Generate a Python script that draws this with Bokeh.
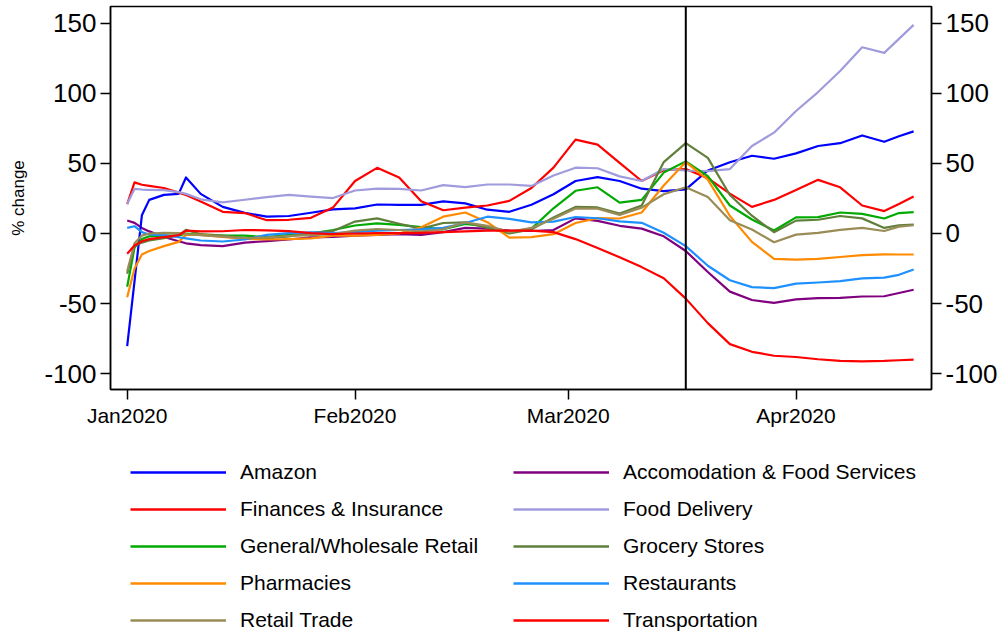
import pandas as pd
from bokeh.plotting import figure
from bokeh.layouts import column
from bokeh.models import (Range1d, LinearAxis, FixedTicker, DatetimeTickFormatter,
                          PrintfTickFormatter, Span, Legend, LegendItem)
from bokeh.embed import file_html
from bokeh.resources import INLINE

# ---------------- data ----------------
dates = ["2020-01-01", "2020-01-02", "2020-01-03", "2020-01-04", "2020-01-06",
         "2020-01-08", "2020-01-09", "2020-01-11", "2020-01-14", "2020-01-17",
         "2020-01-20", "2020-01-23", "2020-01-26", "2020-01-29", "2020-02-01",
         "2020-02-04", "2020-02-07", "2020-02-10", "2020-02-13", "2020-02-16",
         "2020-02-19", "2020-02-22", "2020-02-25", "2020-02-28", "2020-03-02",
         "2020-03-05", "2020-03-08", "2020-03-11", "2020-03-14", "2020-03-17",
         "2020-03-20", "2020-03-23", "2020-03-26", "2020-03-29", "2020-04-01",
         "2020-04-04", "2020-04-07", "2020-04-10", "2020-04-13", "2020-04-15",
         "2020-04-17"]

accommodation = [9.3, 7.6, 4, 1.5, -2.5, -5.5, -7, -8.3, -9, -6.5, -5.5, -4.3, -2.8, -2.5,
                 -1.5, -1, -0.5, -1, 1, 4, 3.5, 2, 1.8, 2.5, 10.8, 9, 5.5, 3.5, -2, -12.5,
                 -27.5, -41.5, -47.5, -49.5, -47, -46.2, -46, -45, -44.8, -42.5, -40.2]
amazon = [-80.5, -34, 13, 24, 27.6, 28.3, 40, 28.3, 19, 14.7, 12.1, 12.5, 14.8, 17.2,
          18, 20.7, 20.5, 20.5, 23, 21.5, 17, 15.5, 20.5, 28, 37.5, 40.2, 37.5, 32, 30.3,
          31.5, 45, 50.9, 55.5, 53.4, 57.2, 62.5, 64.5, 70, 65.5, 69.5, 72.9]
finances = [21, 36.5, 34.8, 34, 32.5, 29.2, 27.5, 22.8, 15.5, 14.6, 9.5, 9.8, 11.2, 18.5,
            37.5, 46.9, 40, 23, 16.6, 18.5, 20, 23.3, 32.5, 47, 67, 63.5, 50.5, 37.5, 45.2,
            46, 39.5, 28.5, 19, 24, 31, 38.3, 33, 20, 16, 21, 26.4]
food_delivery = [21, 31.9, 31.4, 31.2, 31, 29.5, 28.3, 24.4, 22.2, 24.1, 26, 27.6, 26.4,
                 25.3, 30.7, 32, 31.8, 30.7, 34.5, 33.1, 35, 35, 34, 41.4, 47, 46.6, 40.8,
                 37.5, 46, 45, 44.5, 46, 62.5, 72, 87.5, 101, 116, 133, 129, 139, 149]
general_retail = [-38, -10, -4, -2, -1.5, -1.5, 0, -1, -1.5, -1.5, -2.6, -1, 0, 2.5, 5.7,
                  7.2, 6.2, 4.5, 3, 6.8, 5, 1, 3.5, 18, 30.5, 33, 22, 24, 43.5, 51.5, 41,
                  20, 10, 2.1, 11.5, 11.7, 15, 14, 10.7, 14.6, 15.2]
grocery = [-28.8, -9, -6.5, -5, -3.3, -1.4, 2.6, -0.5, -1.5, -3.5, -3.5, -2, 0.5, 1.8,
           8.5, 10.8, 7, 3.5, 7.5, 8, 4, 0, 3, 11.4, 19, 18.6, 14.2, 20, 51, 64.5, 54,
           27.5, 12.7, 0.9, 9.2, 9.8, 12.5, 10.8, 4, 5.9, 6.4]
pharmacies = [-45.5, -25, -15, -12.5, -9, -6, -1, -1, -2.5, -3.8, -4.3, -4, -3.5, -1.5,
              -1.5, -1, 0, 4.5, 12, 15, 8.1, -3, -2.6, -0.5, 7.5, 11, 10.7, 15, 34.3, 51,
              38.5, 12.5, -6, -18.1, -18.6, -18.1, -16.8, -15.5, -14.9, -15, -15]
restaurants = [4, 5.2, 1, -0.7, -1.2, -2.7, -3.5, -5, -5.7, -4.3, -1, 0.3, 0.8, 0.3, 1,
               2, 2.5, 3, 4, 7.5, 12, 10.5, 8, 8.5, 11.8, 10.9, 8.7, 7.6, 0.5, -9, -23,
               -33.4, -38.3, -39, -35.8, -35, -34, -32, -31.5, -29.5, -25.7]
retail_trade = [-27, -7, -1.5, 0, 0.5, 0.3, -0.5, -1.2, -2.3, -3.3, -2.8, -1.8, -1.2,
                -0.5, 2, 3.2, 2.5, 1.5, 3, 8, 5.5, 1, 4, 10.5, 17.9, 17.8, 13.3, 18.5, 28,
                33, 26, 9.5, 2.8, -6.2, -0.8, 0.5, 2.6, 4, 1.8, 4.9, 5.9]
transportation = [-14.5, -8.6, -5.5, -4, -2.6, -1.2, 2, 1.5, 1.6, 2.5, 2.3, 1.7, 0.3,
                  -0.5, 0, 0.3, 0.3, 0.5, 1, 1.5, 2, 2, 2, 1, -4, -10.3, -17, -24, -32,
                  -46.5, -64, -79, -84.5, -87.3, -88.2, -89.8, -90.9, -91.3, -91, -90.5,
                  -90]

names = ["Accomodation & Food Services", "Amazon", "Finances & Insurance",
         "Food Delivery", "General/Wholesale Retail", "Grocery Stores",
         "Pharmacies", "Restaurants", "Retail Trade", "Transportation"]
values = [accommodation, amazon, finances, food_delivery, general_retail, grocery,
          pharmacies, restaurants, retail_trade, transportation]
colors = ["#800080", "#0000FF", "#FF0000", "#A09BDC", "#00AA00", "#5F7F3A",
          "#FF8A00", "#1E90FF", "#9A8C56", "#FF0000"]
legend_order = ["Amazon", "Finances & Insurance", "General/Wholesale Retail",
                "Pharmacies", "Retail Trade", "Accomodation & Food Services",
                "Food Delivery", "Grocery Stores", "Restaurants", "Transportation"]

x_ticks = ["2020-01-01", "2020-02-01", "2020-03-01", "2020-04-01"]
y_ticks = [-100, -50, 0, 50, 100, 150]
event_date = "2020-03-17"
y_label = "% change"

# ---------------- figure ----------------
FONT = "Liberation Sans"


def ms(s):
    return (pd.Timestamp(s) - pd.Timestamp("1970-01-01")) // pd.Timedelta(milliseconds=1)


day_ms = 86400000
x0 = ms("2020-01-01") - 2.27 * day_ms
x1 = ms("2020-01-01") + 109.43 * day_ms

p = figure(frame_width=821, frame_height=383, x_axis_type="datetime",
           x_range=Range1d(x0, x1), y_range=Range1d(-111.4, 162.1),
           output_backend="svg", toolbar_location=None,
           min_border_left=110, min_border_right=0, min_border_top=6,
           min_border_bottom=43)

xs = pd.to_datetime(dates)
renderers = {}
for name, vals, col in zip(names, values, colors):
    renderers[name] = p.line(xs, vals, line_color=col, line_width=2.2, line_join="round")

p.add_layout(Span(location=ms(event_date), dimension="height",
                  line_color="black", line_width=2))

right_axis = LinearAxis()
p.add_layout(right_axis, "right")

p.xgrid.visible = False
p.ygrid.visible = False
p.outline_line_color = "black"
p.outline_line_width = 1.5

p.xaxis.ticker = FixedTicker(ticks=[ms(t) for t in x_ticks])
fmt = "%b%Y"
p.xaxis.formatter = DatetimeTickFormatter(
    microseconds=fmt, milliseconds=fmt, seconds=fmt, minsec=fmt, minutes=fmt,
    hourmin=fmt, hours=fmt, days=fmt, months=fmt, years=fmt)
p.xaxis.major_label_text_font_size = "21px"
p.xaxis.major_label_standoff = 4

for ax in p.yaxis:
    ax.ticker = FixedTicker(ticks=y_ticks)
    ax.formatter = PrintfTickFormatter(format="%d")
    ax.major_label_text_font_size = "26px"
p.yaxis[0].major_label_standoff = 4
p.yaxis[1].major_label_standoff = 4

p.yaxis[0].axis_label = y_label
p.yaxis[0].axis_label_text_font = FONT
p.yaxis[0].axis_label_text_font_style = "normal"
p.yaxis[0].axis_label_text_font_size = "17px"
p.yaxis[0].axis_label_text_color = "black"
p.yaxis[0].axis_label_standoff = 13

for ax in p.xaxis + p.yaxis:
    ax.axis_line_color = "black"
    ax.axis_line_width = 1.5
    ax.major_tick_line_color = "black"
    ax.major_tick_line_width = 1.5
    ax.major_tick_out = 10
    ax.major_tick_in = 0
    ax.minor_tick_line_color = None
    ax.major_label_text_font = FONT
    ax.major_label_text_color = "black"

# ---------------- legend panel ----------------
leg = figure(frame_width=821, frame_height=200, output_backend="svg",
             toolbar_location=None, x_axis_location=None, y_axis_location=None,
             min_border_left=110, min_border_right=0, min_border_top=0,
             min_border_bottom=0)
leg.grid.visible = False
leg.outline_line_color = None
key_renderers = {}
for name, col in zip(names, colors):
    # single-point line: draws nothing on the canvas, only supplies the legend key style
    key_renderers[name] = leg.line(x=[0], y=[0], line_color=col, line_width=2.6)

items = [LegendItem(label=n, renderers=[key_renderers[n]]) for n in legend_order]
legend = Legend(items=items, location=(20, 0), ncols=2, orientation="vertical",
                glyph_width=96, glyph_height=24, label_height=24, label_width=260,
                label_standoff=14, spacing=13, padding=0, margin=0,
                label_text_font=FONT, label_text_font_size="21px",
                label_text_color="black",
                border_line_alpha=0, background_fill_alpha=0)
leg.add_layout(legend, "center")

open("out.html", "w").write(file_html(column(p, leg, spacing=0), INLINE))
